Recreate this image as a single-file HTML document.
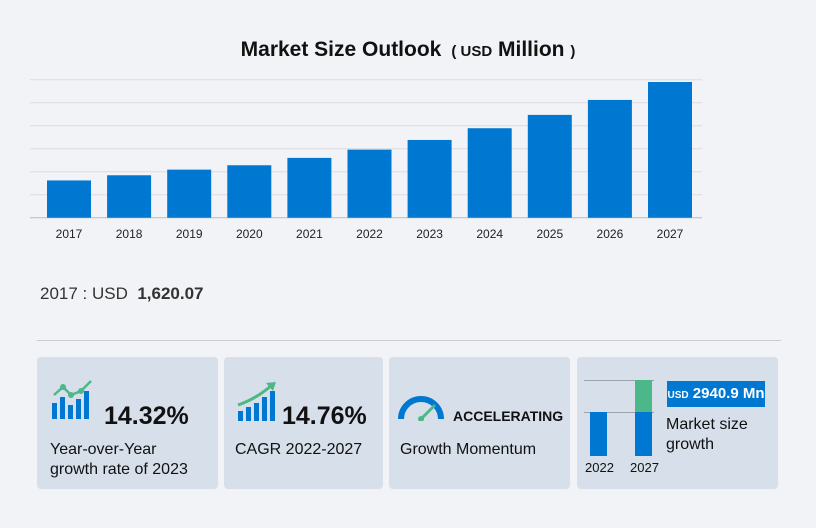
<!DOCTYPE html>
<html><head><meta charset="utf-8"><style>
body{margin:0;width:816px;height:528px;background:#f2f3f6;font-family:"Liberation Sans",sans-serif;position:relative;overflow:hidden;color:#111}
.abs{position:absolute}
.card{position:absolute;top:357px;height:132px;background:#d6dfea;border-radius:4px}
.big{font-weight:bold;font-size:25px;color:#111}
.lbl{font-size:16px;color:#111;line-height:20px}
</style></head><body>
<div class="abs" style="left:0;width:816px;top:38px;text-align:center;font-weight:bold;font-size:21px">Market Size Outlook <span style="font-size:15px;font-weight:bold">&nbsp;( USD</span> Million <span style="font-size:15px">)</span></div>
<svg class="abs" style="left:0;top:0" width="816" height="250">
<g id="grid"></g><g id="bars"></g><g id="xl"></g>
</svg>
<script>
const years=["2017","2018","2019","2020","2021","2022","2023","2024","2025","2026","2027"];
const values=[1620.07,1845,2090,2280,2600,2960,3380,3890,4470,5120,5900];
const gridTicks=[0,1000,2000,3000,4000,5000,6000];
const y0=217.7,pxPer=0.023,x0=47,pitch=60.1,bw=44;
const yS=v=>y0-v*pxPer;
const ns="http://www.w3.org/2000/svg";
const g=document.getElementById('grid'),b=document.getElementById('bars'),xl=document.getElementById('xl');
gridTicks.forEach(t=>{const l=document.createElementNS(ns,'line');


l.setAttribute('x1',30);l.setAttribute('x2',702);l.setAttribute('y1',yS(t));l.setAttribute('y2',yS(t));
l.setAttribute('stroke',t===0?'#bbb':'#dcdce0');l.setAttribute('stroke-width',1);g.appendChild(l);});
years.forEach((yr,i)=>{const r=document.createElementNS(ns,'rect');


r.setAttribute('x',x0+i*pitch);r.setAttribute('width',bw);r.setAttribute('y',yS(values[i]));r.setAttribute('height',y0-yS(values[i]));
r.setAttribute('fill','#0077d0');b.appendChild(r);
const t=document.createElementNS(ns,'text');


t.setAttribute('x',x0+i*pitch+bw/2);t.setAttribute('y',238);t.setAttribute('text-anchor','middle');
t.setAttribute('font-size','12');t.setAttribute('fill','#222');t.textContent=yr;xl.appendChild(t);});
</script>
<div class="abs" style="left:40px;top:284px;font-size:17px;color:#333">2017 : USD &nbsp;<b style="color:#333">1,620.07</b></div>
<div class="abs" style="left:37px;top:340px;width:744px;height:1px;background:#c9ccd3"></div>

<div class="card" style="left:37px;width:181px">
<svg class="abs" style="left:12px;top:20px" width="52" height="44">
<rect x="3" y="26" width="5" height="16" fill="#0077d0"/><rect x="11" y="20" width="5" height="22" fill="#0077d0"/><rect x="19" y="28" width="5" height="14" fill="#0077d0"/><rect x="27" y="22" width="5" height="20" fill="#0077d0"/><rect x="35" y="14" width="5" height="28" fill="#0077d0"/>
<polyline points="5,18 14,10 22,18 32,14 42,4" fill="none" stroke="#4cb88a" stroke-width="2.5"/><circle cx="14" cy="10" r="3" fill="#4cb88a"/><circle cx="22" cy="18" r="3" fill="#4cb88a"/><circle cx="32" cy="14" r="3" fill="#4cb88a"/>
</svg>
<div class="abs big" style="left:67px;top:45px">14.32%</div>
<div class="abs lbl" style="left:13px;top:83px">Year-over-Year<br>growth rate of 2023</div>
</div>
<div class="card" style="left:224px;width:159px">
<svg class="abs" style="left:12px;top:24px" width="44" height="40">
<rect x="2" y="30" width="5" height="10" fill="#0077d0"/><rect x="10" y="26" width="5" height="14" fill="#0077d0"/><rect x="18" y="22" width="5" height="18" fill="#0077d0"/><rect x="26" y="16" width="5" height="24" fill="#0077d0"/><rect x="34" y="10" width="5" height="30" fill="#0077d0"/>
<path d="M2,24 Q20,18 36,4" fill="none" stroke="#4cb88a" stroke-width="3"/><polygon points="30,2 40,1 37,10" fill="#4cb88a"/>
</svg>
<div class="abs big" style="left:58px;top:45px">14.76%</div>
<div class="abs lbl" style="left:11px;top:83px">CAGR 2022-2027</div>
</div>
<div class="card" style="left:389px;width:181px">
<svg class="abs" style="left:8px;top:34px" width="48" height="30">
<path d="M4,28 A20,20 0 0 1 44,28" fill="none" stroke="#0077d0" stroke-width="6"/><line x1="24" y1="28" x2="38" y2="14" stroke="#4cb88a" stroke-width="3"/><circle cx="24" cy="28" r="3" fill="#4cb88a"/>
</svg>
<div class="abs" style="left:64px;top:51px;font-weight:bold;font-size:14px">ACCELERATING</div>
<div class="abs lbl" style="left:11px;top:83px">Growth Momentum</div>
</div>
<div class="card" style="left:577px;width:201px">
<div class="abs" style="left:7px;top:23px;width:70px;height:1px;background:#9aa3b0"></div>
<div class="abs" style="left:7px;top:55px;width:70px;height:1px;background:#9aa3b0"></div>
<div class="abs" style="left:13px;top:55px;width:17px;height:44px;background:#0077d0"></div>
<div class="abs" style="left:58px;top:23px;width:17px;height:32px;background:#4cb88a"></div>
<div class="abs" style="left:58px;top:55px;width:17px;height:44px;background:#0077d0"></div>
<div class="abs" style="left:8px;top:103px;font-size:13px">2022</div>
<div class="abs" style="left:53px;top:103px;font-size:13px">2027</div>
<div class="abs" style="left:90px;top:24px;width:98px;height:26px;background:#0077d0;color:#fff;font-weight:bold;font-size:15px;line-height:26px;text-align:center"><span style="font-size:10px">USD</span> 2940.9 Mn</div>
<div class="abs lbl" style="left:89px;top:58px">Market size<br>growth</div>
</div>
</body></html>
